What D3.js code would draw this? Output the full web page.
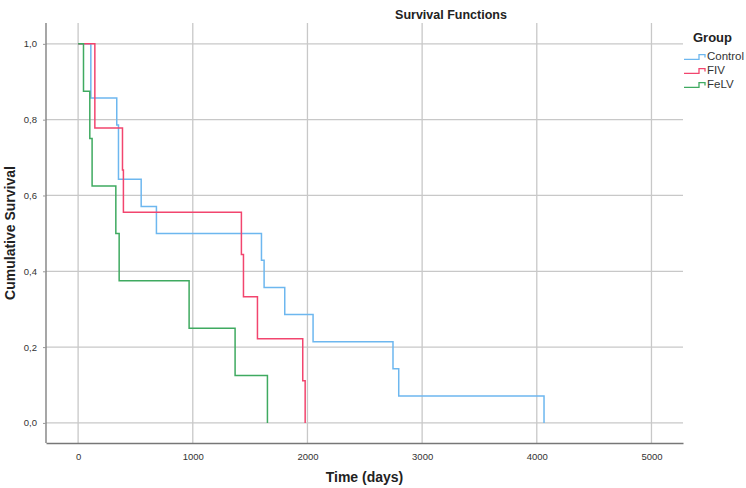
<!DOCTYPE html>
<meta charset="utf-8">
<html>
  <head>
    <style>
     body { margin: 0; background: #fff; }
     text { font-family: "Liberation Sans", Arial, sans-serif; }
     text.tick { font-size: 9.5px; fill: #333; }
     text.title { font-size: 12.5px; font-weight: bold; fill: #222; }
     text.axis-title { font-size: 14px; font-weight: bold; fill: #222; }
     text.legend-title { font-size: 13px; font-weight: bold; fill: #222; }
     text.legend-item { font-size: 11.5px; fill: #333; }
     line.grid { stroke: #c8c8c8; stroke-width: 1.3px; }
     path.curve { fill: none; stroke-width: 1.5px; }
    </style>
    <script src="https://cdnjs.cloudflare.com/ajax/libs/d3/7.8.5/d3.min.js"></script>
  </head>
  <body>
    <div id="chart"></div>
    <script type="text/javascript">
     // Kaplan-Meier steps: event time (days) and survival after it
     var controlTimes = [111, 337, 352, 550, 683, 1599, 1622, 1802, 2049, 2746, 2796, 4063],
         controlSurv  = [0.857, 0.786, 0.643, 0.571, 0.500, 0.429, 0.357, 0.286, 0.214, 0.143, 0.071, 0],
         fivTimes     = [146, 387, 395, 1424, 1442, 1564, 1959, 1980],
         fivSurv      = [0.778, 0.667, 0.556, 0.444, 0.333, 0.222, 0.111, 0],
         felvTimes    = [47, 102, 122, 329, 358, 968, 1369, 1651],
         felvSurv     = [0.875, 0.750, 0.625, 0.500, 0.375, 0.250, 0.125, 0];

     var groups = ["Control", "FIV", "FeLV"],
         colors = ["#6db7ef", "#f2456e", "#3faa60"],
         xTicks = [0, 1000, 2000, 3000, 4000, 5000],
         yTicks = [0, 0.2, 0.4, 0.6, 0.8, 1.0];

     var width = 746, height = 488,
         margin = { top: 23, right: 63, bottom: 45, left: 46 };

     var series = [
       { name: groups[0], times: controlTimes, surv: controlSurv },
       { name: groups[1], times: fivTimes, surv: fivSurv },
       { name: groups[2], times: felvTimes, surv: felvSurv }
     ];
     series.forEach(function (s) {
       s.points = [[0, 1]].concat(s.times.map(function (t, i) { return [t, s.surv[i]]; }));
     });

     var svg = d3.select("#chart").append("svg")
                 .attr("width", width)
                 .attr("height", height);

     var x = d3.scaleLinear().domain([-280, 5275]).range([margin.left, width - margin.right]);
     var y = d3.scaleLinear().domain([-0.053, 1.055]).range([height - margin.bottom, margin.top]);

     // grid
     svg.selectAll(".vgrid")
        .data(xTicks)
        .enter().append("line")
        .attr("class", "grid")
        .attr("x1", function (d) { return x(d); })
        .attr("x2", function (d) { return x(d); })
        .attr("y1", margin.top)
        .attr("y2", height - margin.bottom);

     svg.selectAll(".hgrid")
        .data(yTicks)
        .enter().append("line")
        .attr("class", "grid")
        .attr("x1", margin.left)
        .attr("x2", width - margin.right)
        .attr("y1", function (d) { return y(d); })
        .attr("y2", function (d) { return y(d); });

     // axes
     var fmt = function (d) { return d3.format(".1f")(d).replace(".", ","); };

     svg.append("g")
        .attr("transform", "translate(0," + (height - margin.bottom) + ")")
        .call(d3.axisBottom(x).tickValues(xTicks).tickSize(0).tickPadding(10).tickFormat(d3.format("d")))
        .call(function (g) {
          g.select(".domain").attr("stroke", "#777").attr("stroke-width", 1.3);
          g.selectAll("text").attr("class", "tick").attr("font-family", null).attr("font-size", null).attr("fill", null);
        });

     svg.append("g")
        .attr("transform", "translate(" + margin.left + ",0)")
        .call(d3.axisLeft(y).tickValues(yTicks).tickSize(3).tickPadding(6).tickFormat(fmt))
        .call(function (g) {
          g.select(".domain").attr("stroke", "#777").attr("stroke-width", 1.3).attr("d", "M0," + margin.top + "V" + (height - margin.bottom));
          g.selectAll(".tick line").attr("stroke", "#999");
          g.selectAll("text").attr("class", "tick").attr("font-family", null).attr("font-size", null).attr("fill", null);
        });

     // curves
     var line = d3.line()
                  .x(function (d) { return x(d[0]); })
                  .y(function (d) { return y(d[1]); })
                  .curve(d3.curveStepAfter);

     svg.selectAll(".curve")
        .data(series)
        .enter().append("path")
        .attr("class", "curve")
        .attr("stroke", function (d, i) { return colors[i]; })
        .attr("d", function (d) { return line(d.points); });

     // titles
     svg.append("text").attr("class", "title")
        .attr("x", 451).attr("y", 19)
        .attr("text-anchor", "middle")
        .text("Survival Functions");

     svg.append("text").attr("class", "axis-title")
        .attr("x", (x.range()[0] + x.range()[1]) / 2).attr("y", 482)
        .attr("text-anchor", "middle")
        .text("Time (days)");

     svg.append("text").attr("class", "axis-title")
        .attr("transform", "translate(15," + ((y.range()[0] + y.range()[1]) / 2) + ") rotate(-90)")
        .attr("text-anchor", "middle")
        .text("Cumulative Survival");

     // legend
     var legend = svg.append("g").attr("transform", "translate(684,0)");
     legend.append("text").attr("class", "legend-title")
           .attr("x", 9).attr("y", 42)
           .text("Group");

     var items = legend.selectAll(".item")
                       .data(groups)
                       .enter().append("g")
                       .attr("transform", function (d, i) { return "translate(0," + (56 + i * 14) + ")"; });

     items.append("path")
          .attr("fill", "none")
          .attr("stroke-width", 1.3)
          .attr("stroke", function (d, i) { return colors[i]; })
          .attr("d", "M0,3.3H15V-1.3H21V1.5");

     items.append("text").attr("class", "legend-item")
          .attr("x", 23).attr("y", 4)
          .text(function (d) { return d; });
    </script>
  </body>
</html>
